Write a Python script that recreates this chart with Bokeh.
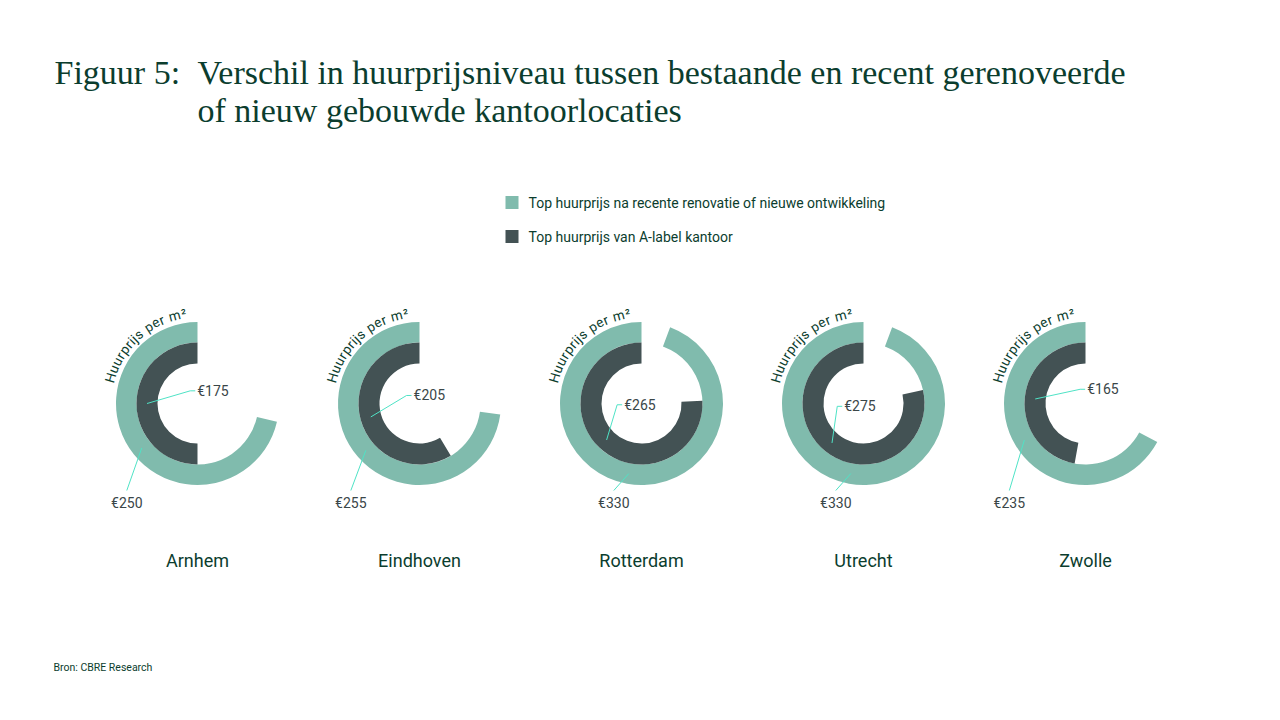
import math
from bokeh.plotting import figure
from bokeh.models import Range1d
from bokeh.core.properties import value
from bokeh.embed import file_html
from bokeh.resources import INLINE

# ---------------- data ----------------
cities = ["Arnhem", "Eindhoven", "Rotterdam", "Utrecht", "Zwolle"]
new_rent = [250, 255, 330, 330, 235]        # Top huurprijs na recente renovatie of nieuwe ontwikkeling
a_label_rent = [175, 205, 265, 275, 165]    # Top huurprijs van A-label kantoor
scale_max = 350                              # full circle value
series_names = ["Top huurprijs na recente renovatie of nieuwe ontwikkeling",
                "Top huurprijs van A-label kantoor"]
title_prefix = "Figuur 5:"
title_lines = ["Verschil in huurprijsniveau tussen bestaande en recent gerenoveerde",
               "of nieuw gebouwde kantoorlocaties"]
arc_caption = "Huurprijs per m²"
source = "Bron: CBRE Research"

# ---------------- style ----------------
W, H = 1280, 720
TEAL = "#80BBAD"
DARK = "#435254"
GREEN_TXT = "#0B3D2E"
LEADER = "#4FE3C6"
VAL_TXT = "#3A4648"
SANS = "Roboto"
SERIF = "Liberation Serif"


def Y(py):
    return H - py


p = figure(width=W, height=H, x_range=Range1d(0, W), y_range=Range1d(0, H),
           output_backend="svg", toolbar_location=None,
           x_axis_type=None, y_axis_type=None, min_border=0)
p.outline_line_color = None
p.xgrid.visible = False
p.ygrid.visible = False
p.background_fill_color = "white"
p.border_fill_color = "white"

# ---------------- title ----------------
p.text(x=[54], y=[Y(72)], text=[title_prefix], text_font=value(SERIF),
       text_font_size="34px", text_color=GREEN_TXT, text_baseline="middle")
p.text(x=[197, 197], y=[Y(72), Y(110)], text=title_lines, text_font=value(SERIF),
       text_font_size="34px", text_color=GREEN_TXT, text_baseline="middle")

# ---------------- legend ----------------
leg_x, leg_y0, leg_dy, sq = 505, 202, 34, 13
for i, (name, col) in enumerate(zip(series_names, [TEAL, DARK])):
    yc = leg_y0 + i * leg_dy
    p.quad(left=[leg_x], right=[leg_x + sq], top=[Y(yc - sq / 2)], bottom=[Y(yc + sq / 2)],
           fill_color=col, line_color=None)
    p.text(x=[leg_x + sq + 10], y=[Y(yc)], text=[name], text_font=value(SANS),
           text_font_size="14px", text_color=GREEN_TXT, text_baseline="middle")

# ---------------- rings ----------------
cx0, dx, cy_pic = 197, 222, 403
r_in0, r_in1, r_out1 = 40, 61, 81.5
top = math.pi / 2

char_w = {"H": .72, "u": .56, "r": .36, "p": .57, "i": .25, "j": .25, "s": .52,
          " ": .30, "e": .54, "m": .86, "²": .38}

for i, city in enumerate(cities):
    cx = cx0 + i * dx
    cy = Y(cy_pic)
    v_out, v_in = new_rent[i], a_label_rent[i]
    a_out = top + v_out / scale_max * 2 * math.pi
    a_in = top + v_in / scale_max * 2 * math.pi
    p.annular_wedge(x=[cx], y=[cy], inner_radius=r_in1, outer_radius=r_out1,
                    start_angle=top, end_angle=a_out, direction="anticlock",
                    fill_color=TEAL, line_color=None)
    p.annular_wedge(x=[cx], y=[cy], inner_radius=r_in0, outer_radius=r_in1,
                    start_angle=top, end_angle=a_in, direction="anticlock",
                    fill_color=DARK, line_color=None)

    # outer value label
    m_out = (top + a_out) / 2
    rm = (r_in1 + r_out1) / 2
    mx, my = cx + rm * math.cos(m_out), cy + rm * math.sin(m_out)
    ex, ey = mx - 15, Y(490)
    p.line(x=[mx, ex], y=[my, ey], line_color=LEADER, line_width=1)
    p.text(x=[ex], y=[Y(502)], text=["€%d" % v_out], text_font=value(SANS),
           text_font_size="14px", text_color=VAL_TXT, text_align="center",
           text_baseline="middle")

    # inner value label
    m_in = (top + a_in) / 2
    rm2 = (r_in0 + r_in1) / 2
    mx2, my2 = cx + rm2 * math.cos(m_in), cy + rm2 * math.sin(m_in)
    kx = cx + 26 - 0.19 * v_in
    ky = Y(cy_pic - 39.8 + 0.155 * v_in)
    p.line(x=[mx2, kx, kx + 5], y=[my2, ky, ky], line_color=LEADER, line_width=1)
    p.text(x=[kx + 7], y=[ky], text=["€%d" % v_in], text_font=value(SANS),
           text_font_size="14px", text_color=VAL_TXT, text_align="left",
           text_baseline="middle")

    # curved caption
    widths = [char_w.get(c, .5) for c in arc_caption]
    total = sum(widths)
    a_start, a_end = math.radians(167), math.radians(97)
    r_txt = 91
    xs, ys, angs = [], [], []
    acc = 0
    for w in widths:
        frac = (acc + w / 2) / total
        th = a_start + (a_end - a_start) * frac
        xs.append(cx + r_txt * math.cos(th))
        ys.append(cy + r_txt * math.sin(th))
        angs.append(th - math.pi / 2)
        acc += w
    p.text(x=xs, y=ys, text=list(arc_caption), angle=angs, text_font=value(SANS),
           text_font_size="13.5px", text_color=GREEN_TXT, text_align="center",
           text_baseline="middle")

    # city name
    p.text(x=[cx], y=[Y(560)], text=[city], text_font=value(SANS),
           text_font_size="18px", text_color=GREEN_TXT, text_align="center",
           text_baseline="middle")

# ---------------- source ----------------
p.text(x=[53], y=[Y(667)], text=[source], text_font=value(SANS),
       text_font_size="10.5px", text_color=GREEN_TXT, text_baseline="middle")

open("out.html", "w").write(file_html(p, INLINE))
